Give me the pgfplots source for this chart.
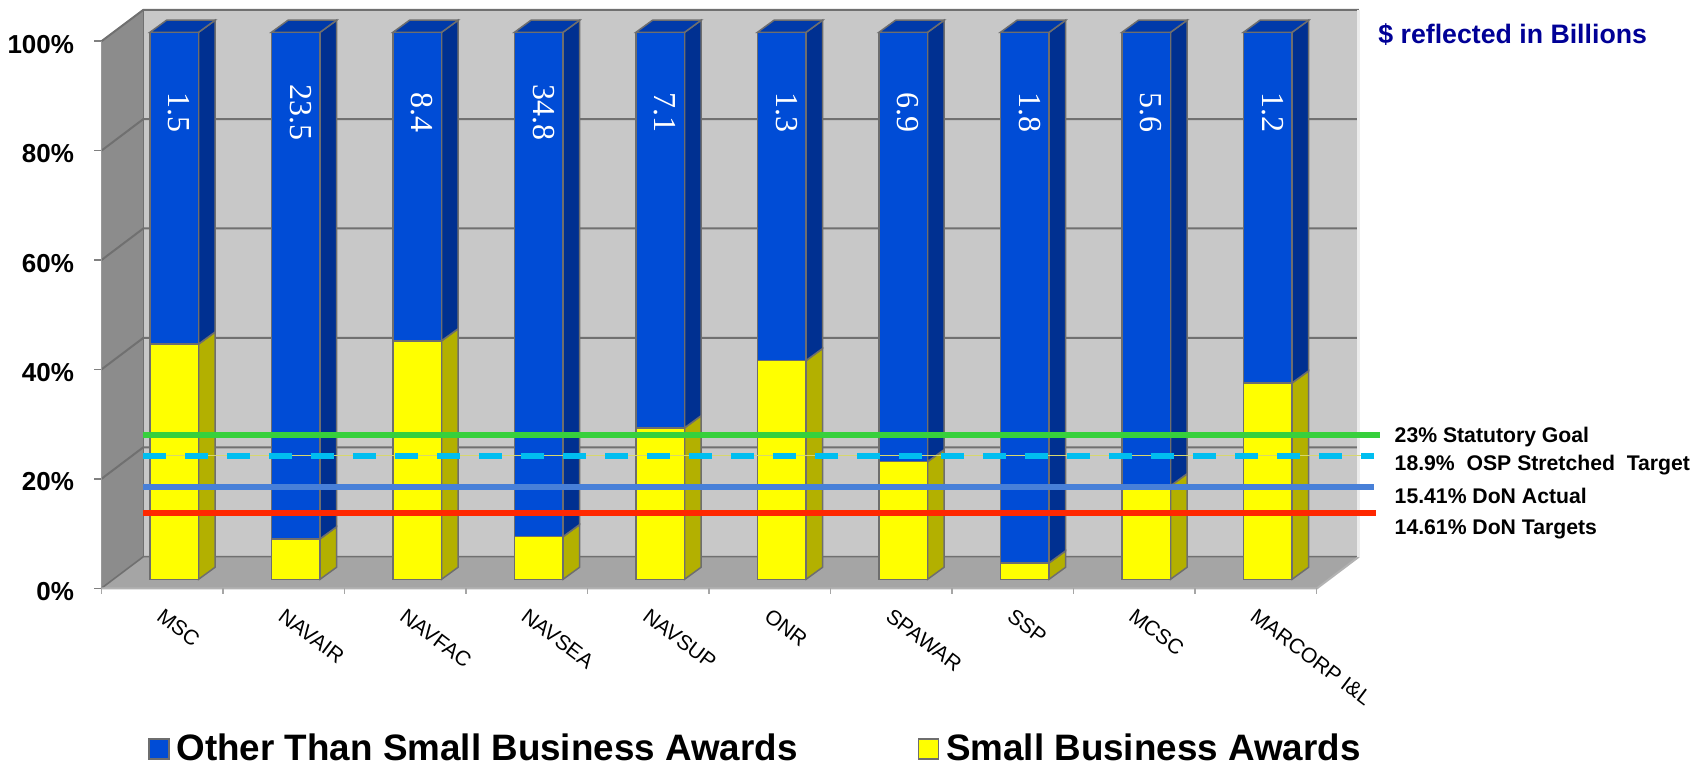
\documentclass[border=0pt]{standalone}
\usepackage{pgfplots}
\usepackage{pgfplotstable}
\pgfplotsset{compat=1.18}
\usepackage{fontspec}
\setmainfont{Liberation Sans}
\newfontfamily\seriffont{Liberation Serif}

\definecolor{wallC}{RGB}{200,200,200}
\definecolor{floorC}{RGB}{165,165,165}
\definecolor{leftwallC}{RGB}{140,140,140}
\definecolor{gridC}{RGB}{112,112,112}
\definecolor{edgeC}{RGB}{110,110,110}
\definecolor{blueC}{RGB}{0,76,214}
\definecolor{bsideC}{RGB}{0,48,145}
\definecolor{btopC}{RGB}{0,58,170}
\definecolor{yelC}{RGB}{255,255,0}
\definecolor{ysideC}{RGB}{179,176,0}
\definecolor{goalC}{RGB}{55,208,60}
\definecolor{cyanC}{RGB}{0,190,240}
\definecolor{actC}{RGB}{72,128,216}
\definecolor{redC}{RGB}{255,40,0}
\definecolor{paleY}{RGB}{215,215,110}
\definecolor{navyC}{RGB}{0,0,150}

\pgfplotstableread{
x sb other total ly
0 43.0 57.0 1.5 85.3
1 7.4 92.6 23.5 85.3
2 43.6 56.4 8.4 85.3
3 7.8 92.2 34.8 85.3
4 27.7 72.3 7.1 85.3
5 40.0 60.0 1.3 85.3
6 21.5 78.5 6.9 85.3
7 3.0 97.0 1.8 85.3
8 17.1 82.9 5.6 85.3
9 35.9 64.1 1.2 85.3
}\datatable

\pgfplotsset{base/.style={
  x=60.75pt, y=2.735pt,
  xmin=-0.6, xmax=9.75, ymin=-1.65, ymax=104.1,
  axis line style={draw=none},
  clip=false,
  anchor=south west, at={(50.7pt,91.35pt)},
  xtick=\empty, ytick=\empty,
}}

\begin{document}
\begin{tikzpicture}
\path[use as bounding box] (0,0) rectangle (847.5pt,385.5pt);

% ---------- background walls and bar sides ----------
\begin{axis}[base]
\fill[leftwallC] (-0.6,-1.65) -- (-0.6,98.35) -- (-0.255,104.1) -- (-0.255,4.13) -- cycle;
\fill[wallC] (-0.255,4.13) rectangle (9.75,104.1);
\fill[floorC] (-0.6,-1.65) -- (9.405,-1.65) -- (9.75,4.13) -- (-0.255,4.13) -- cycle;
\draw[gridC, line width=1pt] (-0.6,18.35) -- (-0.255,24.13) -- (9.75,24.13);
\draw[gridC, line width=1pt] (-0.6,38.35) -- (-0.255,44.13) -- (9.75,44.13);
\draw[gridC, line width=1pt] (-0.6,58.35) -- (-0.255,64.13) -- (9.75,64.13);
\draw[gridC, line width=1pt] (-0.6,78.35) -- (-0.255,84.13) -- (9.75,84.13);
\draw[gridC, line width=1pt] (-0.6,98.35) -- (-0.255,104.1) -- (9.75,104.1);
\draw[gridC, line width=0.8pt] (-0.6,-1.65) -- (-0.255,4.13) -- (9.75,4.13);
\draw[gridC, line width=0.6pt] (-0.255,4.13) -- (-0.255,104.1);
\draw[gray!60, line width=1pt] (-0.6,-1.65) -- (9.405,-1.65) -- (9.75,4.13);
\draw[gray!80, line width=0.8pt] (-0.6,-1.65) -- (-0.6,98.35);
\draw[white!85!gray, line width=1.5pt] (9.75,4.13) -- (9.75,104.1);
\draw[gray!70, line width=0.8pt] (-0.6,-1.65) -- (-0.6,-2.75);
\draw[gray!70, line width=0.8pt] (0.4,-1.65) -- (0.4,-2.75);
\draw[gray!70, line width=0.8pt] (1.4,-1.65) -- (1.4,-2.75);
\draw[gray!70, line width=0.8pt] (2.4,-1.65) -- (2.4,-2.75);
\draw[gray!70, line width=0.8pt] (3.4,-1.65) -- (3.4,-2.75);
\draw[gray!70, line width=0.8pt] (4.4,-1.65) -- (4.4,-2.75);
\draw[gray!70, line width=0.8pt] (5.4,-1.65) -- (5.4,-2.75);
\draw[gray!70, line width=0.8pt] (6.4,-1.65) -- (6.4,-2.75);
\draw[gray!70, line width=0.8pt] (7.4,-1.65) -- (7.4,-2.75);
\draw[gray!70, line width=0.8pt] (8.4,-1.65) -- (8.4,-2.75);
\draw[gray!70, line width=0.8pt] (9.4,-1.65) -- (9.4,-2.75);

\pgfplotsinvokeforeach{0,...,9}{
  \pgfplotstablegetelem{#1}{sb}\of\datatable
  \pgfmathsetmacro\sbv{\pgfplotsretval}
  \pgfmathsetmacro\sbd{\sbv+2.2}
  \pgfmathsetmacro\xl{#1-0.2}
  \pgfmathsetmacro\xll{#1-0.2+0.136}
  \pgfmathsetmacro\xr{#1+0.2}
  \pgfmathsetmacro\xrr{#1+0.2+0.136}
  \edef\temp{%
    \noexpand\addplot[fill=ysideC, draw=edgeC, line width=0.75pt] coordinates {(\xr,0) (\xrr,2.2) (\xrr,\sbd) (\xr,\sbv)} -- cycle;
    \noexpand\addplot[fill=bsideC, draw=edgeC, line width=0.75pt] coordinates {(\xr,\sbv) (\xrr,\sbd) (\xrr,102.2) (\xr,100)} -- cycle;
    \noexpand\addplot[fill=btopC, draw=edgeC, line width=0.75pt] coordinates {(\xl,100) (\xr,100) (\xrr,102.2) (\xll,102.2)} -- cycle;
  }\temp
}
\end{axis}

% ---------- front faces of the stacked bars ----------
\begin{axis}[base, ybar stacked, bar width=0.4]
\addplot[fill=yelC, draw=edgeC, line width=0.75pt] table[x=x,y=sb]{\datatable};
\addplot[fill=blueC, draw=edgeC, line width=0.75pt] table[x=x,y=other]{\datatable};
\end{axis}

% ---------- reference lines, labels, ticks, legend ----------
\begin{axis}[base,
  /pgf/number format/assume math mode=true,
  xtick={0,...,9},
  xticklabels={MSC,NAVAIR,NAVFAC,NAVSEA,NAVSUP,ONR,SPAWAR,SSP,MCSC,MARCORP I\&L},
  ytick={-1.65,18.35,38.35,58.35,78.35,98.35},
  yticklabels={0\%,20\%,40\%,60\%,80\%,100\%},
  tick pos=left, tick align=outside, major tick length=3.5pt,
  xtick style={draw=none},
  ytick style={draw=gray, line width=0.8pt},
  xticklabel style={xshift=-5pt, yshift=-5.85pt, rotate=-37, anchor=north west, inner sep=0pt,
     font=\fontsize{10.5}{10.5}\selectfont},
  yticklabel style={xshift=-10pt, yshift=-1.5pt, anchor=east, inner sep=0pt,
     font=\bfseries\fontsize{13}{13}\selectfont},
  legend style={at={(0.0368,-0.2774)}, anchor=west, draw=none, fill=none, inner sep=0pt,
     legend columns=2, font=\bfseries\fontsize{18.4}{18.4}\selectfont,
     nodes={inner sep=3.5pt},
     /tikz/every even column/.append style={column sep=56.5pt}},
  legend cell align=left,
]
\addplot[goalC, line width=3pt, forget plot] coordinates {(-0.255,26.4) (9.92,26.4)};
\addplot[paleY, line width=0.6pt, forget plot] coordinates {(-0.255,22.6) (9.874,22.6)};
\addplot[cyanC, line width=3pt, dash pattern=on 11.5pt off 9.5pt, forget plot] coordinates {(-0.255,22.6) (9.874,22.6)};
\addplot[actC, line width=3pt, forget plot] coordinates {(-0.255,16.96) (9.874,16.96)};
\addplot[redC, line width=3pt, forget plot] coordinates {(-0.255,12.1) (9.89,12.1)};
\addplot[draw=none, mark=none, forget plot, nodes near coords, point meta=explicit symbolic,
   every node near coord/.append style={xshift=2.5pt, rotate=-90, anchor=center, text=white,
   font=\seriffont\fontsize{16}{16}\selectfont}]
   table[x=x,y=ly,meta=total]{\datatable};
\addlegendimage{legend image code/.code={\draw[fill=blueC,draw=edgeC,line width=0.75pt] (0pt,-5pt) rectangle (10pt,5pt);}}
\addlegendentry{Other Than Small Business Awards}
\addlegendimage{legend image code/.code={\draw[fill=yelC,draw=edgeC,line width=0.75pt] (0pt,-5pt) rectangle (10pt,5pt);}}
\addlegendentry{Small Business Awards}
\end{axis}

\begin{scope}[x=0.5pt, y=-0.5pt, shift={(0pt,385.5pt)}]
\node[anchor=base west, inner sep=0pt, text=navyC, font=\bfseries\fontsize{13.35}{13.35}\selectfont] at (1378,43.3) {\$ reflected in Billions};
\node[anchor=base west, inner sep=0pt, font=\bfseries\fontsize{10.6}{10.6}\selectfont] at (1394.3,442.7) {23\% Statutory Goal};
\node[anchor=base west, inner sep=0pt, font=\bfseries\fontsize{10.6}{10.6}\selectfont] at (1394.3,471) {18.9\%\ \ OSP Stretched\ \ Target};
\node[anchor=base west, inner sep=0pt, font=\bfseries\fontsize{10.6}{10.6}\selectfont] at (1394.3,503.3) {15.41\% DoN Actual};
\node[anchor=base west, inner sep=0pt, font=\bfseries\fontsize{10.6}{10.6}\selectfont] at (1394.3,534.3) {14.61\% DoN Targets};
\end{scope}
\end{tikzpicture}
\end{document}
